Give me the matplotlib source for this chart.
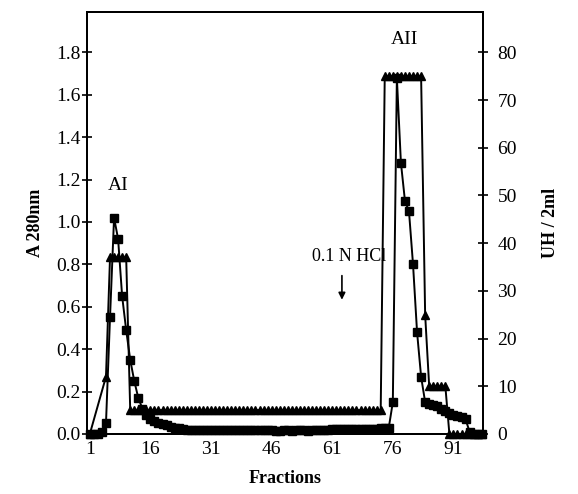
import numpy as np
import matplotlib
matplotlib.use("Agg")
import matplotlib.pyplot as plt

plt.rcParams['font.family'] = ['Liberation Serif', 'DejaVu Serif']

# A 280nm, one reading per fraction (squares)
a280_x = list(range(1, 99))
a280 = ([0.0, 0.0, 0.0, 0.01, 0.05, 0.55, 1.02, 0.92, 0.65, 0.49,
         0.35, 0.25, 0.17, 0.12, 0.09, 0.07, 0.06, 0.05, 0.045, 0.04,
         0.035, 0.03, 0.03, 0.025]
        + [0.02] * 21
        + [0.02, 0.015, 0.015, 0.02, 0.02, 0.015, 0.02, 0.02, 0.02, 0.015,
           0.02, 0.02, 0.02, 0.02, 0.02]
        + [0.025] * 12
        + [0.03, 0.03, 0.03,
           0.15, 1.68, 1.28, 1.10, 1.05, 0.80, 0.48, 0.27, 0.15, 0.14,
           0.135, 0.13, 0.12, 0.11, 0.10, 0.09, 0.085, 0.08, 0.07, 0.01,
           0.0, 0.0, 0.0])

# UH / 2ml (triangles)
uh_x = [1] + list(range(5, 99))
uh = ([0, 12] + [37] * 5 + [5] * 63 + [75] * 10 + [25] + [10] * 5 + [0] * 9)

fraction_ticks = [1, 16, 31, 46, 61, 76, 91]

fig = plt.figure(figsize=(5.78, 4.94), dpi=100)
ax = fig.add_axes([0.1505, 0.1215, 0.685, 0.854])
ax2 = ax.twinx()

ax.plot(a280_x, a280, 's-', c='black', ms=5.2, lw=1.4, clip_on=False, zorder=3)
ax2.plot(uh_x, uh, '^-', c='black', ms=5.8, lw=1.4, clip_on=False, zorder=3)

ax.set_xlim(0.3, 98.3)
ax.set_ylim(0, 1.99)
ax2.set_ylim(0, 1.99 * 80 / 1.8)

ax.set_xticks(fraction_ticks)
ax.set_yticks(np.arange(0, 1.81, 0.2))
ax.set_yticklabels(['%.1f' % v for v in np.arange(0, 1.81, 0.2)])
ax2.set_yticks(range(0, 81, 10))

ax.tick_params(axis='x', length=0, labelsize=14, pad=5)
ax.tick_params(axis='y', direction='inout', length=7, width=1.2, labelsize=14, pad=1)
ax2.tick_params(axis='y', direction='inout', length=7, width=1.2, labelsize=14, pad=7)

for a in (ax, ax2):
    for s in a.spines.values():
        s.set_linewidth(1.4)

ax.set_xlabel('Fractions', fontsize=13, fontweight='bold', labelpad=9)
ax.set_ylabel('A 280nm', fontsize=13, fontweight='bold', labelpad=9)
ax2.set_ylabel('UH / 2ml', fontsize=13, fontweight='bold', labelpad=18)

ax.text(7.9, 1.17, 'AI', fontsize=14, ha='center', va='center')
ax.text(79, 1.86, 'AII', fontsize=14, ha='center', va='center')
ax.text(65.2, 0.835, '0.1 N HCl', fontsize=13, ha='center', va='center')
ax.annotate('', xy=(63.4, 0.62), xytext=(63.4, 0.76),
            arrowprops=dict(arrowstyle='-|>', color='black', lw=1.2,
                            mutation_scale=10))

fig.savefig('out.png', dpi=100)
